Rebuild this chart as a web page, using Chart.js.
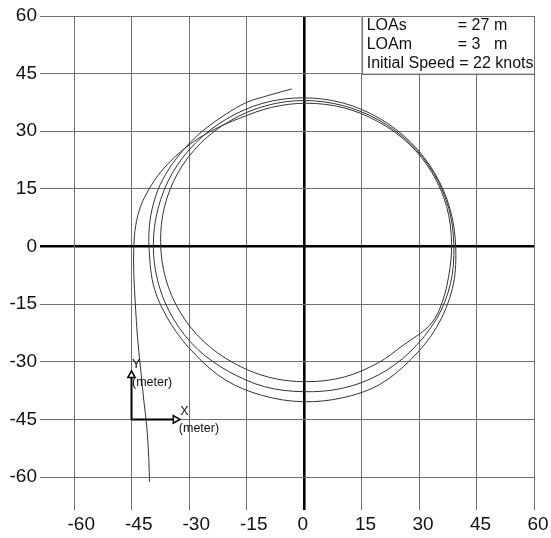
<!DOCTYPE html>
<html>
<head>
<meta charset="utf-8">
<script src="https://cdn.jsdelivr.net/npm/chart.js@4.4.1/dist/chart.umd.min.js"></script>
<style>
  html, body { margin: 0; padding: 0; background: #fff; }
  canvas { display: block; }
</style>
</head>
<body>
<canvas id="c" width="551" height="538"></canvas>
<script>
// Ship track during a starboard turning test (metres):
// straight approach with the initial kick, three laps, then the last partial arc
const trackX = [
  // approach
  -40.3, -40.5, -41.0, -41.8, -42.6, -43.4, -44.0, -44.4, -44.4,
  -43.9, -42.6, -40.4, -37.4, -33.5, -28.8, -23.2, -16.5, -8.5, 0.55,
  // lap 1
  10.4, 19.5, 27.4, 33.4, 37.2, 38.5, 37.7, 35.4, 32.4, 26.0, 19.5, 10.4, 0.55,
  -9.3, -18.4, -26.3, -32.3, -36.1, -37.4,
  -36.4, -32.9, -27.05, -19.3, -10.1, -0.1,
  // lap 2
  10.05, 19.5, 27.6, 33.85, 37.77, 39.1, 38.2, 34.6, 27.6, 19.5, 10.05, -0.1,
  -10.25, -19.7, -27.8, -34.05, -37.97, -39.3,
  -38.1, -34.4, -28.25, -20.2, -10.7, -0.4,
  // lap 3
  10.0, 19.6, 27.9, 34.2, 38.2, 39.6, 38.7, 34.6, 27.9, 19.6, 9.95, -0.4,
  -10.8, -20.4, -28.3, -34.6, -39.0, -40.4,
  // last arc
  -40.2, -38.6, -36.1, -33.0, -29.4, -25.3, -20.6, -15.0, -9.0, -3.2
];
const trackY = [
  // approach
  -61.2, -55, -47, -40, -32, -24, -15, -7, 0,
  5.5, 10.5, 15, 19.4, 23.5, 27.3, 30.6, 33.5, 36.2, 37.3,
  // lap 1
  36.1, 32.4, 26.7, 19.2, 10.4, 1.05, -8.0, -16.3, -20.9, -25.6, -30.2, -34.0, -35.2,
  -34.0, -30.3, -24.6, -17.1, -8.3, 1.05,
  10.3, 19.15, 26.8, 32.7, 36.6, 38.0,
  // lap 2
  36.7, 32.9, 26.9, 19.05, 9.9, 0.1, -9.7, -18.8, -27.5, -33.4, -36.9, -37.8,
  -36.5, -32.5, -26.7, -18.85, -9.7, 0.1,
  9.8, 19.0, 27.0, 33.2, 37.3, 38.7,
  // lap 3
  37.4, 33.4, 27.1, 18.9, 9.4, -0.85, -11.0, -21.0, -29.4, -36.0, -39.4, -40.4,
  -38.8, -34.8, -28.2, -20.3, -11.1, -0.85,
  // last arc
  6.5, 13.4, 18.8, 23.3, 27.4, 31.0, 34.3, 37.5, 39.4, 41.0
];

const axisTicks = [-60, -45, -30, -15, 0, 15, 30, 45, 60];

const infoRows = [
  { name: "LOAs", value: "= 27", unit: "m" },
  { name: "LOAm", value: "= 3", unit: "m" },
  { name: "Initial Speed = 22 knots", value: "", unit: "" }
];
const infoBox = { x0: 15, x1: 60, y0: 45, y1: 60 };

const iconOrigin = { x: -45, y: -45 };
const iconLength = 12.6;

const FONT = "'Liberation Sans', Arial, sans-serif";
const GRID = '#707070';

const points = trackX.map((x, i) => ({ x: x, y: trackY[i] }));

const gridOpts = {
  color: c => (c.tick && c.tick.value === 0) ? '#000' : GRID,
  lineWidth: c => (c.tick && c.tick.value === 0) ? 2.6 : 1,
  drawTicks: true
};

const overlay = {
  id: 'overlay',
  beforeDatasetsDraw(chart) {
    const { ctx, scales: { x, y } } = chart;
    // parameter box
    const L = x.getPixelForValue(infoBox.x0), R = x.getPixelForValue(infoBox.x1);
    const T = y.getPixelForValue(infoBox.y1), B = y.getPixelForValue(infoBox.y0);
    ctx.save();
    ctx.fillStyle = '#fff';
    ctx.fillRect(L, T, R - L, B - T);
    ctx.strokeStyle = GRID;
    ctx.lineWidth = 1;
    ctx.strokeRect(Math.round(L) + 0.5, Math.round(T) + 0.5, Math.round(R - L) - 1, Math.round(B - T));
    ctx.fillStyle = '#111';
    ctx.font = '16px ' + FONT;
    ctx.textBaseline = 'alphabetic';
    ctx.textAlign = 'left';
    infoRows.forEach((r, i) => {
      const by = T + 13.6 + i * 19;
      ctx.fillText(r.name, L + 5.2, by);
      if (r.value) ctx.fillText(r.value, L + 96.3, by);
      if (r.unit) ctx.fillText(r.unit, L + 132.5, by);
    });
    ctx.restore();
  },
  afterDraw(chart) {
    const { ctx, scales: { x, y } } = chart;
    const ox = x.getPixelForValue(iconOrigin.x), oy = y.getPixelForValue(iconOrigin.y);
    const tx = x.getPixelForValue(iconOrigin.x + iconLength);
    const ty = y.getPixelForValue(iconOrigin.y + iconLength);
    ctx.save();
    ctx.strokeStyle = '#000';
    ctx.lineWidth = 2;
    ctx.beginPath();
    ctx.moveTo(ox, ty + 7);
    ctx.lineTo(ox, oy);
    ctx.lineTo(tx - 6, oy);
    ctx.stroke();
    // arrow heads
    ctx.fillStyle = '#fff';
    ctx.lineWidth = 1.6;
    ctx.beginPath();
    ctx.moveTo(ox, ty);
    ctx.lineTo(ox - 3.6, ty + 6.5);
    ctx.lineTo(ox + 3.6, ty + 6.5);
    ctx.closePath();
    ctx.fill(); ctx.stroke();
    ctx.beginPath();
    ctx.moveTo(tx, oy);
    ctx.lineTo(tx - 6.5, oy - 3.8);
    ctx.lineTo(tx - 6.5, oy + 3.8);
    ctx.closePath();
    ctx.fill(); ctx.stroke();
    // axis names
    ctx.fillStyle = '#111';
    ctx.font = '12.5px ' + FONT;
    ctx.textAlign = 'left';
    ctx.textBaseline = 'alphabetic';
    ctx.fillText('Y', ox + 0.5, ty - 3);
    ctx.fillText('(meter)', ox + 0.5, ty + 15);
    ctx.fillText('X', tx + 0.5, oy - 4);
    ctx.fillText('(meter)', tx - 1, oy + 13);
    ctx.restore();
  }
};

new Chart(document.getElementById('c'), {
  type: 'scatter',
  data: {
    datasets: [{
      data: points,
      showLine: true,
      borderColor: '#333',
      borderWidth: 1,
      pointRadius: 0,
      tension: 0.34,
      clip: false
    }]
  },
  options: {
    responsive: false,
    devicePixelRatio: 1,
    animation: false,
    layout: { padding: { left: 0, right: 17, top: 16, bottom: 0 } },
    plugins: { legend: { display: false }, tooltip: { enabled: false } },
    scales: {
      x: {
        type: 'linear',
        min: -60, max: 60,
        afterBuildTicks: s => { s.ticks = axisTicks.map(v => ({ value: v })); },
        afterFit: s => { s.height = 61; s.paddingLeft = 0; s.paddingRight = 0; },
        grid: Object.assign({ tickLength: 33 }, gridOpts),
        border: { display: true, color: GRID, width: 1 },
        ticks: {
          align: 'start',
          labelOffset: -6.5,
          padding: 3,
          maxRotation: 0,
          autoSkip: false,
          color: '#111',
          font: { family: FONT, size: 19 }
        }
      },
      y: {
        type: 'linear',
        min: -60, max: 60,
        afterBuildTicks: s => { s.ticks = axisTicks.map(v => ({ value: v })); },
        afterFit: s => { s.width = 74; s.paddingTop = 0; s.paddingBottom = 0; },
        grid: Object.assign({ tickLength: 34 }, gridOpts),
        border: { display: true, color: GRID, width: 1 },
        ticks: {
          padding: 3,
          autoSkip: false,
          color: '#111',
          font: { family: FONT, size: 19 }
        }
      }
    }
  },
  plugins: [overlay]
});
</script>
</body>
</html>
